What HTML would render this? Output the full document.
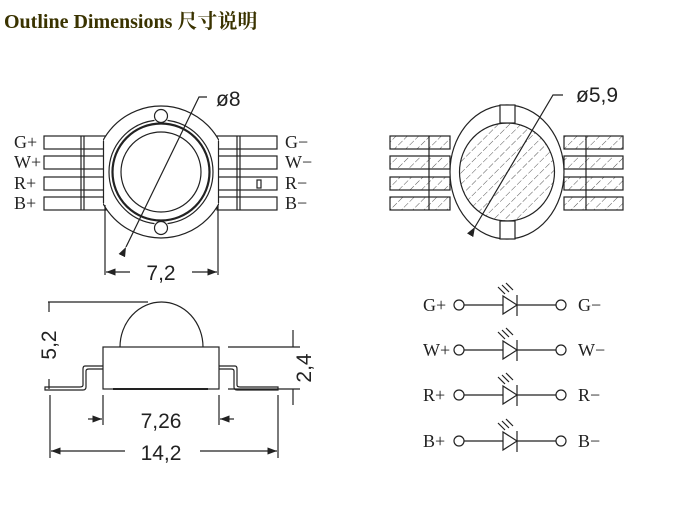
<!DOCTYPE html>
<html><head><meta charset="utf-8"><style>
html,body{margin:0;padding:0;background:#fff;width:673px;height:505px;overflow:hidden}
.t{position:absolute;left:4px;top:5px;font:bold 20px "Liberation Serif","Noto Serif CJK SC",serif;color:#3a3300;white-space:nowrap}
svg{position:absolute;left:0;top:0}
text{font-family:"Liberation Sans","DejaVu Sans",sans-serif;fill:#222}
.s text{font-family:"Liberation Serif","DejaVu Serif",serif;font-size:18px}
</style></head><body>
<div class="t">Outline Dimensions 尺寸说明</div>
<svg width="673" height="505" viewBox="0 0 673 505">
<defs>
<pattern id="h" width="8" height="8" patternUnits="userSpaceOnUse" patternTransform="rotate(45)">
<line x1="0" y1="0" x2="0" y2="8" stroke="#444" stroke-width="0.9" stroke-dasharray="5 2"/>
</pattern>
<clipPath id="c1"><rect x="103" y="90" width="116" height="170"/></clipPath>
<marker id="a" markerWidth="8" markerHeight="6" refX="8" refY="3" orient="auto"><path d="M0,0 L8,3 L0,6z" fill="#222"/></marker>
</defs>
<g fill="none" stroke="#222" stroke-width="1.2">
<g>
<rect x="44" y="136" width="62" height="13"/><rect x="44" y="156" width="62" height="13"/><rect x="44" y="177" width="62" height="13"/><rect x="44" y="197" width="62" height="13"/>
<rect x="217" y="136" width="60" height="13"/><rect x="217" y="156" width="60" height="13"/><rect x="217" y="177" width="60" height="13"/><rect x="217" y="197" width="60" height="13"/>
<path d="M81,136v74M84,136v74M237,136v74M240,136v74"/>
<rect x="257" y="180" width="4" height="8"/>
</g>
<circle cx="161" cy="172" r="66" fill="#fff" clip-path="url(#c1)"/>
<path d="M103.5,141V203M218.5,141V203"/>
<circle cx="161" cy="116" r="6.5" fill="#fff"/>
<circle cx="161" cy="228" r="6.5" fill="#fff"/>
<path d="M109,172A52,52 0 0 1 154.5,120.4M167.5,120.4A52,52 0 0 1 213,172A52,52 0 0 1 167.5,223.6M154.5,223.6A52,52 0 0 1 109,172"/>
<circle cx="161" cy="172" r="48.5" stroke-width="2.2" fill="#fff"/>
<circle cx="161" cy="172" r="40"/>
<path d="M126,247L199,97H207" marker-start="url(#a)"/>
<path d="M105,205V275M218,205V275"/>
<path d="M130,272H106" marker-end="url(#a)"/><path d="M192,272H217" marker-end="url(#a)"/>
<g>
<rect x="390" y="136" width="60" height="13" fill="url(#h)"/><rect x="390" y="156" width="60" height="13" fill="url(#h)"/><rect x="390" y="177" width="60" height="13" fill="url(#h)"/><rect x="390" y="197" width="60" height="13" fill="url(#h)"/>
<rect x="564" y="136" width="59" height="13" fill="url(#h)"/><rect x="564" y="156" width="59" height="13" fill="url(#h)"/><rect x="564" y="177" width="59" height="13" fill="url(#h)"/><rect x="564" y="197" width="59" height="13" fill="url(#h)"/>
<path d="M429,136v74M586,136v74"/>
</g>
<ellipse cx="507" cy="172" rx="57" ry="67" fill="#fff"/>
<ellipse cx="507" cy="172" rx="47.5" ry="49" fill="url(#h)"/>
<rect x="500" y="105" width="15" height="18" fill="#fff"/>
<rect x="500" y="221" width="15" height="18" fill="#fff"/>
<path d="M475,227L553,95H563" marker-start="url(#a)"/>
<path d="M120,347A41.5,45 0 0 1 203,347"/>
<rect x="103" y="347" width="116" height="42" fill="#fff"/>
<path d="M103,366H85Q83,366 83,369V385Q83,387 80,387H45V390H83Q86,390 86,387V371Q86,369 89,369H103"/>
<path d="M219,366H235Q237,366 237,369V385Q237,387 240,387H278V390H237Q234,390 234,387V371Q234,369 231,369H219"/>
<path d="M113,389H208" stroke-width="2"/>
<path d="M48,302H148"/>
<path d="M49,312V302" /><path d="M49,379V389"/>
<path d="M228,347H300M228,389H300"/>
<path d="M293,330V347M293,389V405"/>
<path d="M103,395V425M219,395V425M50,395V458M278,395V458"/>
<path d="M88,419H102" marker-end="url(#a)"/><path d="M234,419H220" marker-end="url(#a)"/>
<path d="M125,451H51" marker-end="url(#a)"/><path d="M200,451H277" marker-end="url(#a)"/>
<g id="row">
<circle cx="459" cy="305" r="5"/><circle cx="561" cy="305" r="5"/>
<path d="M464,305H556"/>
<path d="M503,296V314L517,305Z" fill="#fff"/>
<path d="M517,295V316"/>
<path d="M505,294L498,287M509,292L502,285M513,290L506,283"/>
</g>
<use href="#row" y="45"/><use href="#row" y="90"/><use href="#row" y="136"/>
</g>
<g class="s">
<text x="14" y="148">G+</text><text x="14" y="168">W+</text><text x="14" y="189">R+</text><text x="14" y="209">B+</text>
<text x="285" y="148">G−</text><text x="285" y="168">W−</text><text x="285" y="189">R−</text><text x="285" y="209">B−</text>
<text x="423" y="311">G+</text><text x="423" y="356">W+</text><text x="423" y="401">R+</text><text x="423" y="447">B+</text>
<text x="578" y="311">G−</text><text x="578" y="356">W−</text><text x="578" y="401">R−</text><text x="578" y="447">B−</text>
</g>
<g font-size="21">
<text x="216" y="106">ø8</text>
<text x="576" y="102">ø5,9</text>
<text x="161" y="280" text-anchor="middle">7,2</text>
<text x="161" y="428" text-anchor="middle">7,26</text>
<text x="161" y="460" text-anchor="middle">14,2</text>
<text transform="translate(56,345) rotate(-90)" text-anchor="middle">5,2</text>
<text transform="translate(311,368) rotate(-90)" text-anchor="middle">2,4</text>
</g>
</svg>
</body></html>
